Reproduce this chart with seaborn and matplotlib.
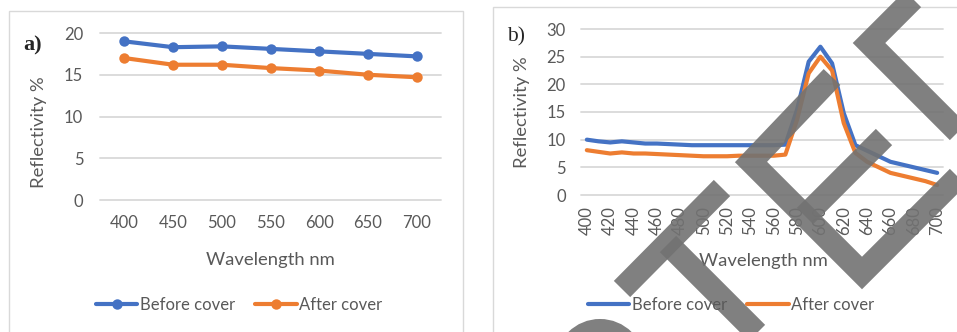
import matplotlib
matplotlib.use("Agg")
import matplotlib.pyplot as plt
from matplotlib.lines import Line2D
from matplotlib.patches import Rectangle, Ellipse
import seaborn as sns
import pandas as pd

# panel a) data
wl_a = [400, 450, 500, 550, 600, 650, 700]
before_a = [19.0, 18.3, 18.4, 18.1, 17.8, 17.5, 17.2]
after_a = [17.0, 16.2, 16.2, 15.8, 15.5, 15.0, 14.7]

# panel b) data
wl_b = list(range(400, 701, 10))
before_b = [10.0, 9.7, 9.5, 9.7, 9.5, 9.3, 9.3, 9.2, 9.1, 9.0, 9.0, 9.0, 9.0, 9.0, 9.0, 9.0,
            9.0, 9.1, 15.4, 24.1, 26.8, 23.8, 14.8, 9.0, 8.0, 7.0, 6.0, 5.5, 5.0, 4.5, 4.0]
after_b = [8.1, 7.8, 7.5, 7.7, 7.5, 7.5, 7.4, 7.3, 7.2, 7.1, 7.0, 7.0, 7.0, 7.1, 7.1, 7.1,
           7.1, 7.3, 13.6, 22.0, 25.0, 22.5, 13.0, 7.6, 6.0, 5.0, 4.0, 3.5, 3.0, 2.5, 1.8]

series_names = ["Before cover", "After cover"]
colors = {"Before cover": "#4472C4", "After cover": "#ED7D31"}
TXT = "#595959"
GRID = "#d9d9d9"

df_a = pd.DataFrame({"Wavelength": wl_a * 2,
                     "Reflectivity": before_a + after_a,
                     "Series": [series_names[0]] * len(wl_a) + [series_names[1]] * len(wl_a)})
df_b = pd.DataFrame({"Wavelength": wl_b * 2,
                     "Reflectivity": before_b + after_b,
                     "Series": [series_names[0]] * len(wl_b) + [series_names[1]] * len(wl_b)})

sns.set_theme(style="white")
plt.rcParams["font.family"] = ["Lato", "DejaVu Sans"]

W, H = 957, 332
fig = plt.figure(figsize=(W / 100, H / 100), dpi=100)


def fx(px):
    return px / W


def fy(py):
    return 1 - py / H


# chart area frames
fig.patches.append(Rectangle((fx(9), -0.01), fx(454), fy(11) + 0.01, transform=fig.transFigure,
                             fill=False, edgecolor=GRID, linewidth=1.0))
fig.patches.append(Rectangle((fx(493), -0.01), fx(470), fy(7) + 0.01, transform=fig.transFigure,
                             fill=False, edgecolor=GRID, linewidth=1.0))

ax_a = fig.add_axes([fx(100), fy(200), fx(341), 167 / H])
ax_b = fig.add_axes([fx(581), fy(195), fx(362), 166 / H])


def style_axes(ax, ymax, ypad, xpad):
    ax.set_ylim(0, ymax)
    ax.set_yticks(range(0, ymax + 1, 5))
    ax.grid(axis="y", color=GRID, linewidth=1.3)
    ax.set_axisbelow(True)
    for g in ax.get_ygridlines():
        g.set_clip_on(False)
    for s in ax.spines.values():
        s.set_visible(False)
    ax.tick_params(axis="both", length=0, colors=TXT, labelsize=12)
    ax.tick_params(axis="y", pad=ypad)
    ax.tick_params(axis="x", pad=xpad)


# ---- panel a
sns.lineplot(data=df_a, x="Wavelength", y="Reflectivity", hue="Series", palette=colors,
             marker="o", markersize=7.5, markeredgewidth=0, linewidth=3, ax=ax_a, legend=False)
ax_a.set_xlim(375, 725)
ax_a.set_xticks(wl_a)
style_axes(ax_a, 20, 12, 11)
ax_a.set_xlabel("Wavelength nm", color=TXT, fontsize=13.3)
ax_a.set_ylabel("Reflectivity %", color=TXT, fontsize=13.3)
ax_a.xaxis.set_label_coords(0.501, -0.31)
ax_a.yaxis.set_label_coords(-0.155, 0.404)
handles_a = [Line2D([], [], color=colors[n], marker="o", markersize=7.5, markeredgewidth=0, linewidth=3)
             for n in series_names]
fig.legend(handles_a, series_names, loc="center", bbox_to_anchor=(fx(239), fy(305)), ncol=2,
           frameon=False, fontsize=12, labelcolor=TXT, handlelength=2.5, handletextpad=0.15,
           columnspacing=1.2)
fig.text(fx(33), fy(45), "a)", fontsize=16, fontweight="bold", family="Liberation Serif",
         color="#262626", ha="center", va="center")

# ---- panel b
sns.lineplot(data=df_b, x="Wavelength", y="Reflectivity", hue="Series", palette=colors,
             linewidth=3, ax=ax_b, legend=False)
ax_b.set_xlim(395, 705)
ax_b.set_xticks(wl_b[::2])
style_axes(ax_b, 30, 11, 8)
ax_b.tick_params(axis="x", labelrotation=90)
ax_b.set_xlabel("Wavelength nm", color=TXT, fontsize=13.3)
ax_b.set_ylabel("Reflectivity %", color=TXT, fontsize=13.3)
ax_b.xaxis.set_label_coords(0.503, -0.35)
ax_b.yaxis.set_label_coords(-0.141, 0.497)
handles_b = [Line2D([], [], color=colors[n], linewidth=3) for n in series_names]
fig.legend(handles_b, series_names, loc="center", bbox_to_anchor=(fx(731), fy(305)), ncol=2,
           frameon=False, fontsize=12, labelcolor=TXT, handlelength=2.5, handletextpad=0.15,
           columnspacing=1.2)
fig.text(fx(516), fy(37), "b)", fontsize=15.5, family="Liberation Serif",
         color="#262626", ha="center", va="center")

# ---- watermark overlay on panel b
WM = dict(color="#727272", alpha=0.9, linewidth=23 * 0.72, solid_capstyle="butt",
          solid_joinstyle="miter", transform=fig.transFigure)
strokes = [
    [(929, -17), (869, 43), (989, 163)],
    [(832, 77), (751, 162), (862, 273), (965, 170)],
    [(805, 216), (884, 137)],
    [(622, 289), (722, 188)],
    [(668, 244), (800, 376)],
]
for pts in strokes:
    fig.add_artist(Line2D([fx(p[0]) for p in pts], [fy(p[1]) for p in pts], **WM))
fig.add_artist(Ellipse((fx(600), fy(364)), 2 * 34 / W, 2 * 34 / H, fill=False,
                       edgecolor="#727272", alpha=0.9, linewidth=22 * 0.72,
                       transform=fig.transFigure))

fig.savefig("out.png", dpi=100)
